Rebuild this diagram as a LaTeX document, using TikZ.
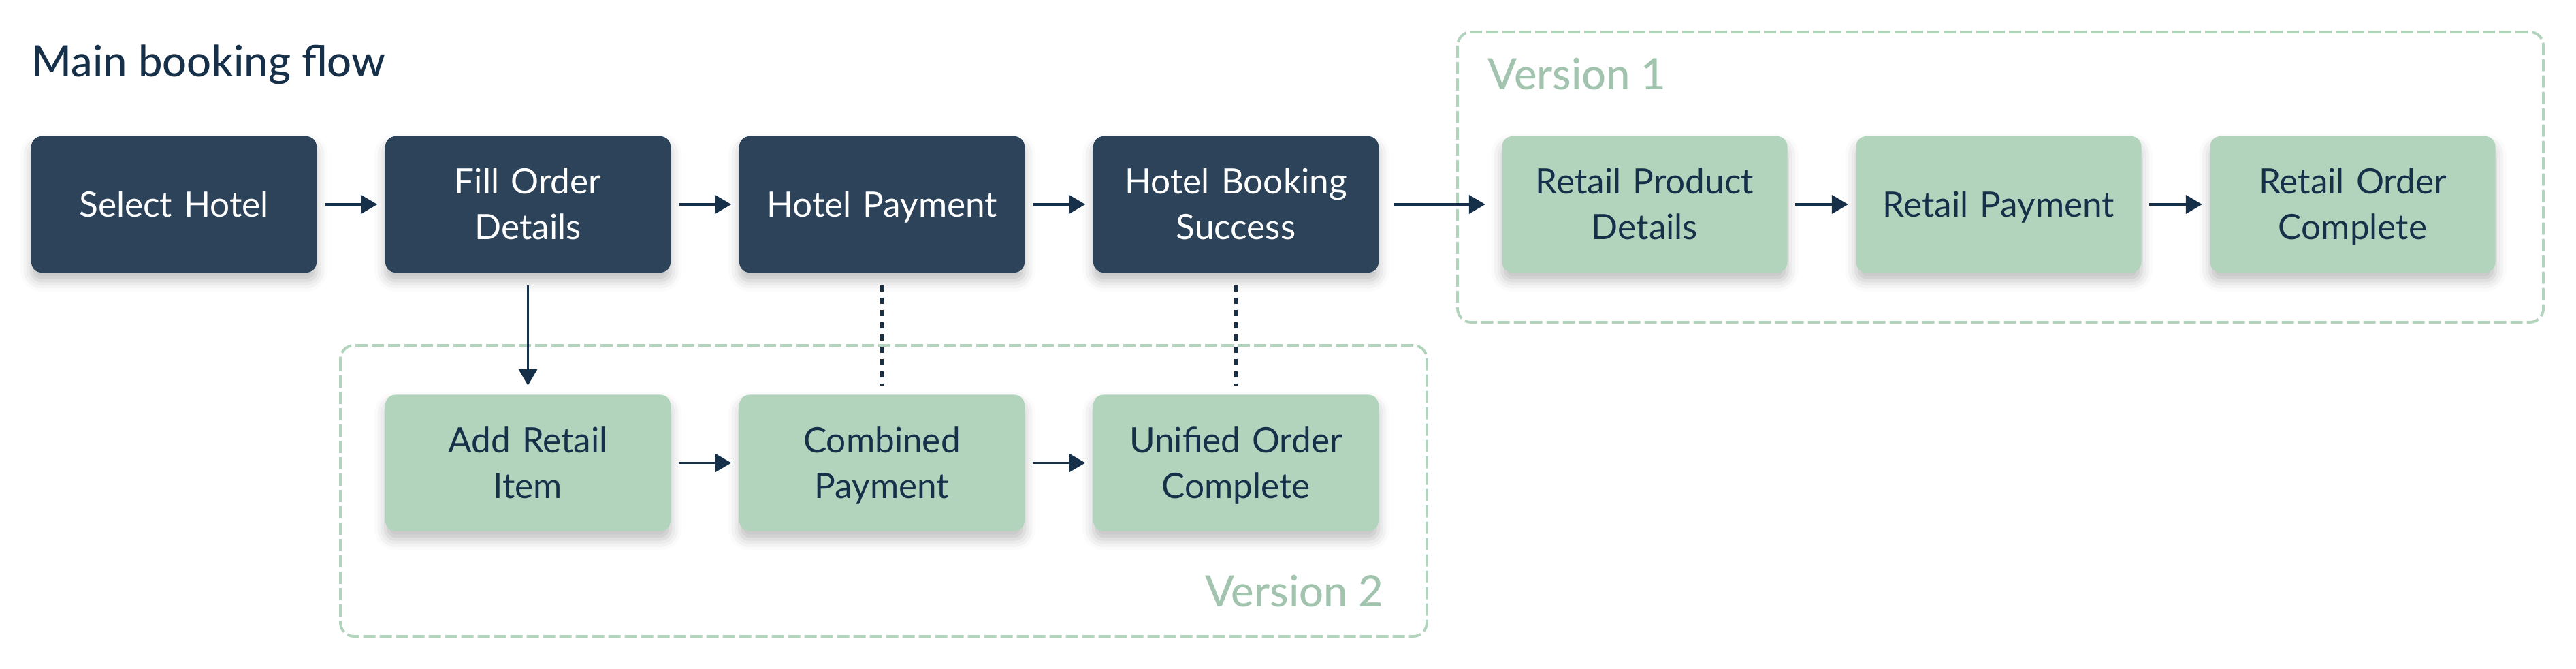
\documentclass[tikz,border=0pt]{standalone}
\usepackage{fontspec}
\setmainfont{Lato}
\newfontfamily\medfont{Lato Medium}
\usepackage{tikz}
\usetikzlibrary{arrows.meta,shadows.blur}
\definecolor{navy}{HTML}{2C4359}
\definecolor{ink}{HTML}{17304A}
\definecolor{mint}{HTML}{B2D4BD}
\definecolor{sage}{HTML}{A2C4AE}
\newcommand{\boxstrut}{\rule[-4pt]{0pt}{18.4pt}}
\tikzset{box/.style={rounded corners=1.5mm,minimum width=4.19cm,minimum height=2cm,inner sep=0pt,align=center,text width=4cm,font=\fontsize{14.6}{19}\selectfont,execute at begin node=\boxstrut,execute at end node=\boxstrut,blur shadow={shadow xshift=0pt,shadow yshift=-1.2mm,shadow blur radius=1.6mm,shadow opacity=25}},hotel/.style={box,fill=navy,text=white},retail/.style={box,fill=mint,text=ink},arr/.style={-{Triangle[length=2.4mm,width=2.7mm]},draw=ink,line width=1.1pt,shorten <=1.1mm,shorten >=1.1mm},link/.style={draw=ink,line width=1.4pt,dash pattern=on 0.9mm off 0.9mm,shorten <=1.8mm,shorten >=1.3mm},group/.style={draw=mint,line width=1.1pt,dash pattern=on 1.8mm off 0.6mm,rounded corners=2mm},tag/.style={font=\medfont\fontsize{18}{22}\selectfont,inner sep=0pt}}

\begin{document}
\begin{tikzpicture}
\useasboundingbox (0,0) rectangle (37.84,-9.82);
\draw[group] (21.41,-0.47) rectangle (37.36,-4.73);
\draw[group] (5.00,-5.07) rectangle (20.96,-9.34);
\node[tag,text=ink,anchor=base west] (title) at (0.46,-1.13) {Main booking flow};
\node[tag,text=sage,anchor=base west] (v1) at (21.85,-1.32) {Version 1};
\node[tag,text=sage,anchor=base east] (v2) at (20.33,-8.90) {Version 2};
% main flow
\node[hotel] (sel) at (2.555,-3) {Select Hotel};
\node[hotel] (fill) at (7.755,-3) {Fill Order\\Details};
\node[hotel] (pay) at (12.955,-3) {Hotel Payment};
\node[hotel] (succ) at (18.155,-3) {Hotel Booking\\Success};
% version 1
\node[retail] (rprod) at (24.16,-3) {Retail Product\\Details};
\node[retail] (rpay) at (29.36,-3) {Retail Payment};
\node[retail] (rdone) at (34.56,-3) {Retail Order\\Complete};
% version 2
\node[retail] (add) at (7.755,-6.795) {Add Retail\\Item};
\node[retail] (comb) at (12.955,-6.795) {Combined\\Payment};
\node[retail] (uni) at (18.155,-6.795) {Unified Order\\Complete};
\draw[arr] (sel)--(fill);
\draw[arr] (fill)--(pay);
\draw[arr] (pay)--(succ);
\draw[arr,shorten <=2.2mm,shorten >=2.4mm] (succ)--(rprod);
\draw[arr] (rprod)--(rpay);
\draw[arr] (rpay)--(rdone);
\draw[arr,shorten <=1.8mm,shorten >=1.3mm] (fill)--(add);
\draw[arr] (add)--(comb);
\draw[arr] (comb)--(uni);
\draw[link] (pay)--(comb);
\draw[link] (succ)--(uni);
\end{tikzpicture}
\end{document}
